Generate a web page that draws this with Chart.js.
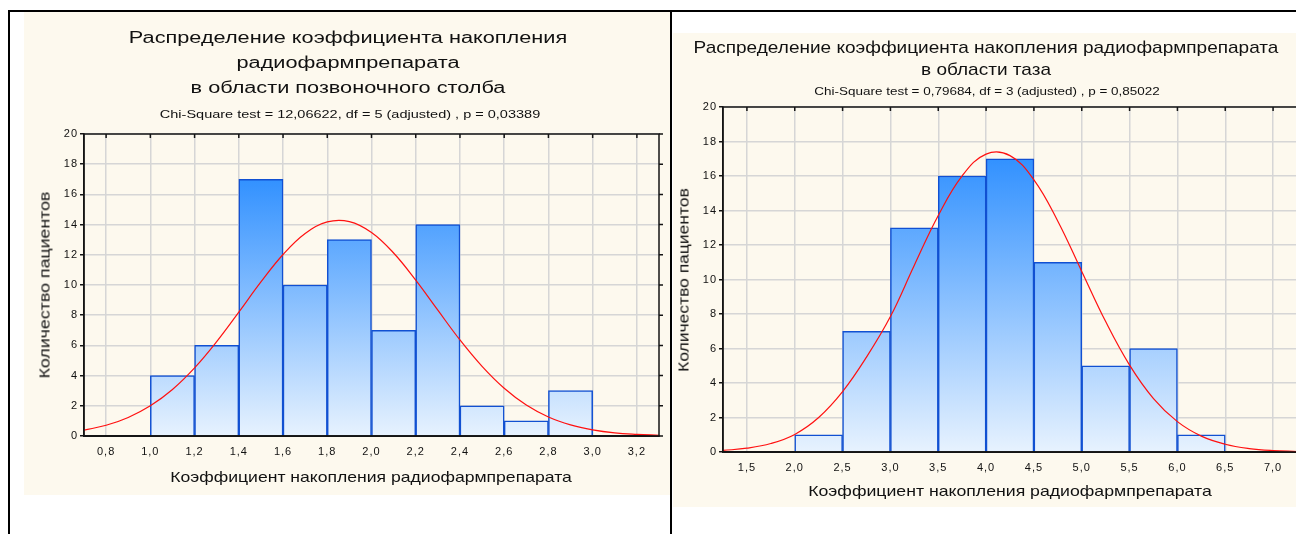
<!DOCTYPE html>
<html lang="ru">
<head>
<meta charset="utf-8">
<title>Распределение коэффициента накопления радиофармпрепарата</title>
<script src="https://cdn.jsdelivr.net/npm/chart.js@4.4.1/dist/chart.umd.min.js"></script>
<style>
  html, body { margin: 0; padding: 0; }
  body {
    width: 1296px; height: 534px; overflow: hidden; position: relative;
    background: #ffffff;
    font-family: "Liberation Sans", Arial, sans-serif; color: #111;
  }
  .rule { position: absolute; background: #000; }
  .panel { position: absolute; background: #fdf9ee; }
  canvas { position: absolute; }
  .txt {
    position: absolute; white-space: nowrap; line-height: 1;
    transform-origin: 50% 50%;
  }
  .ttl { font-size: 16px; }
  .ttl2 { font-size: 17px; }
  .sub { font-size: 11px; }
  .axt { font-size: 15px; }
</style>
</head>
<body>
  <!-- page frame -->
  <div class="rule" style="left:8px;top:10px;width:1288px;height:2px"></div>
  <div class="rule" style="left:8px;top:10px;width:2px;height:524px"></div>
  <div class="rule" style="left:670px;top:10px;width:2px;height:524px"></div>

  <!-- spine panel -->
  <div class="panel" style="left:24px;top:12px;width:646px;height:483px"></div>
  <canvas id="spine" width="646" height="483" style="left:24px;top:12px"></canvas>
  <div class="txt ttl" id="spT1" style="left:348px;top:29.5px" data-w="438">Распределение коэффициента накопления</div>
  <div class="txt ttl" style="left:348px;top:54.5px" data-k="spT1">радиофармпрепарата</div>
  <div class="txt ttl" style="left:348px;top:79.5px" data-k="spT1">в области позвоночного столба</div>
  <div class="txt sub" style="left:350px;top:108.7px" data-w="380">Chi-Square test = 12,06622, df = 5 (adjusted) , p = 0,03389</div>
  <div class="txt axt" style="left:371px;top:468.5px" data-w="401">Коэффициент накопления радиофармпрепарата</div>
  <div class="txt axt" style="left:44px;top:285px" data-w="187" data-rot="1">Количество пациентов</div>

  <!-- pelvis panel -->
  <div class="panel" style="left:673px;top:33px;width:623px;height:474px"></div>
  <canvas id="pelvis" width="637" height="474" style="left:673px;top:33px"></canvas>
  <div class="txt ttl2" id="plT1" style="left:985.5px;top:38.6px" data-w="585">Распределение коэффициента накопления радиофармпрепарата</div>
  <div class="txt ttl2" style="left:985.5px;top:60.6px" data-k="plT1">в области таза</div>
  <div class="txt sub" style="left:987px;top:85.7px" data-w="345">Chi-Square test = 0,79684, df = 3 (adjusted) , p = 0,85022</div>
  <div class="txt axt" style="left:1010px;top:483.3px" data-w="403">Коэффициент накопления радиофармпрепарата</div>
  <div class="txt axt" style="left:683px;top:280px" data-w="184" data-rot="1">Количество пациентов</div>

<script>
// ---- shared y axis ----
const yTicks = [0, 2, 4, 6, 8, 10, 12, 14, 16, 18, 20];

// ---- spine: histogram bins, counts and fitted normal curve ----
const spineBinStart = [1.0, 1.2, 1.4, 1.6, 1.8, 2.0, 2.2, 2.4, 2.6, 2.8];
const spineBinWidth = 0.2;
const spineCounts   = [4, 6, 17, 10, 13, 7, 14, 2, 1, 3];
const spineCurveX = [0.7, 0.8, 0.9, 1.0, 1.1, 1.2, 1.3, 1.4, 1.5, 1.6, 1.7, 1.8, 1.9,
                     2.0, 2.1, 2.2, 2.3, 2.4, 2.5, 2.6, 2.7, 2.8, 2.9, 3.0, 3.1, 3.2, 3.3];
const spineCurveY = [0.39, 0.71, 1.23, 2.00, 3.08, 4.51, 6.25, 8.20, 10.20, 12.02, 13.41, 14.18, 14.20,
                     13.48, 12.12, 10.32, 8.33, 6.36, 4.61, 3.16, 2.05, 1.26, 0.74, 0.41, 0.21, 0.11, 0.05];
const spineXTicks = [0.8, 1.0, 1.2, 1.4, 1.6, 1.8, 2.0, 2.2, 2.4, 2.6, 2.8, 3.0, 3.2];
const spineXRange = [0.7, 3.3];

// ---- pelvis: histogram bins, counts and fitted normal curve ----
const pelvisBinStart = [2.0, 2.5, 3.0, 3.5, 4.0, 4.5, 5.0, 5.5, 6.0];
const pelvisBinWidth = 0.5;
const pelvisCounts   = [1, 7, 13, 16, 17, 11, 5, 6, 1];
const pelvisCurveX = [1.25, 1.5, 1.75, 2.0, 2.25, 2.5, 2.75, 3.0, 3.25, 3.5, 3.75, 4.0, 4.25,
                      4.5, 4.75, 5.0, 5.25, 5.5, 5.75, 6.0, 6.25, 6.5, 6.75, 7.0, 7.25];
const pelvisCurveY = [0.09, 0.22, 0.49, 1.02, 2.00, 3.50, 5.50, 7.85, 10.83, 13.71, 16.01, 17.27, 17.18,
                      15.78, 13.38, 10.47, 7.56, 5.04, 3.10, 1.76, 0.92, 0.45, 0.20, 0.08, 0.03];
const pelvisXTicks = [1.5, 2.0, 2.5, 3.0, 3.5, 4.0, 4.5, 5.0, 5.5, 6.0, 6.5, 7.0];
const pelvisXRange = [1.25, 7.25];

// ---- text fitting: stretch each heading to its box width ----
(function fitText() {
  const els = Array.from(document.querySelectorAll('.txt'));
  els.filter(e => e.dataset.w).forEach(e => {
    e._k = parseFloat(e.dataset.w) / e.offsetWidth;
  });
  els.forEach(e => {
    const s = e.dataset.k ? document.getElementById(e.dataset.k)._k : e._k;
    if (e.dataset.rot) {
      e.style.transform = `translate(-50%, -50%) rotate(-90deg) scaleX(${s})`;
    } else {
      e.style.transform = `translateX(-50%) scaleX(${s})`;
    }
  });
})();

const FONT = '"Liberation Sans", Arial, sans-serif';
const fmt = v => Number(v).toFixed(1).replace('.', ',');

function barFill(c) {
  const area = c.chart.chartArea;
  if (!area) return '#7ab6ff';
  const g = c.chart.ctx.createLinearGradient(0, area.bottom, 0, area.top);
  g.addColorStop(0, '#e7f2fe');
  g.addColorStop(1, '#1280ff');
  return g;
}

// closed plot frame with short ticks on the top (inward) and right (outward) edges
const plotFrame = {
  id: 'plotFrame',
  beforeDraw(chart) { chart.ctx.letterSpacing = '1px'; },
  afterDraw(chart) {
    const { ctx, chartArea: a, scales } = chart;
    ctx.save();
    ctx.letterSpacing = '0px';
    ctx.strokeStyle = '#151515';
    ctx.lineWidth = 1.5;
    ctx.strokeRect(a.left, a.top, a.right - a.left, a.bottom - a.top);
    ctx.beginPath();
    scales.x.ticks.forEach(t => {
      const x = scales.x.getPixelForValue(t.value);
      ctx.moveTo(x, a.top); ctx.lineTo(x, a.top + 4);
    });
    scales.y.ticks.forEach(t => {
      const y = scales.y.getPixelForValue(t.value);
      ctx.moveTo(a.right, y); ctx.lineTo(a.right + 4, y);
    });
    ctx.stroke();
    ctx.restore();
  }
};

function histogram(id, o) {
  return new Chart(document.getElementById(id), {
    type: 'bar',
    data: {
      datasets: [
        {
          type: 'line', order: 0,
          data: o.curveX.map((x, i) => ({ x, y: o.curveY[i] })),
          borderColor: '#ff1010', borderWidth: 1.2,
          pointRadius: 0, tension: 0.4, fill: false
        },
        {
          type: 'bar', order: 1,
          data: o.bins.map((b, i) => ({ x: b + o.binWidth / 2, y: o.counts[i] })),
          backgroundColor: barFill, borderColor: '#1150d2', borderWidth: 1.5,
          barPercentage: 1, categoryPercentage: 1
        }
      ]
    },
    options: {
      responsive: false, animation: false, devicePixelRatio: 1,
      layout: { padding: { top: o.padTop, right: o.padRight, left: 0, bottom: 0 } },
      plugins: { legend: { display: false }, tooltip: { enabled: false }, title: { display: false } },
      scales: {
        x: {
          type: 'linear', offset: false, min: o.xRange[0], max: o.xRange[1],
          afterBuildTicks: s => { s.ticks = o.xTicks.map(v => ({ value: v })); },
          afterFit: s => { s.height = o.xAxisH; },
          grid: { color: '#d6d6d6', lineWidth: 1.5, drawTicks: false, offset: false },
          border: { color: '#151515', width: 2 },
          ticks: { padding: 9, color: '#111', font: { family: FONT, size: 11 }, maxRotation: 0, callback: v => fmt(v) }
        },
        y: {
          min: 0, max: 20,
          afterBuildTicks: s => { s.ticks = yTicks.map(v => ({ value: v })); },
          afterFit: s => { s.width = o.yAxisW; },
          grid: { color: '#d6d6d6', lineWidth: 1.5, tickLength: 4, tickColor: '#151515' },
          border: { color: '#151515', width: 1.5 },
          ticks: { padding: 2, color: '#111', font: { family: FONT, size: 11 } }
        }
      }
    },
    plugins: [plotFrame]
  });
}

histogram('spine', {
  bins: spineBinStart, binWidth: spineBinWidth, counts: spineCounts,
  curveX: spineCurveX, curveY: spineCurveY,
  xTicks: spineXTicks, xRange: spineXRange,
  padTop: 122, padRight: 11, yAxisW: 60, xAxisH: 59
});

histogram('pelvis', {
  bins: pelvisBinStart, binWidth: pelvisBinWidth, counts: pelvisCounts,
  curveX: pelvisCurveX, curveY: pelvisCurveY,
  xTicks: pelvisXTicks, xRange: pelvisXRange,
  padTop: 74, padRight: 13, yAxisW: 50, xAxisH: 55
});
</script>
</body>
</html>
